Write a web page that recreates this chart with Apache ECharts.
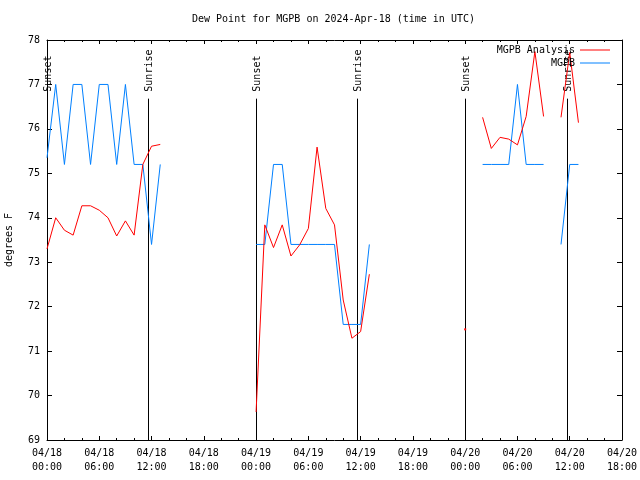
<!DOCTYPE html>
<html><head><meta charset="utf-8">
<script src="https://cdn.jsdelivr.net/npm/echarts@6/dist/echarts.min.js"></script>
<style>html,body{margin:0;padding:0;background:#fff}#c{width:640px;height:480px}</style>
</head><body><div id="c"></div>
<script>
const FONT = 'DejaVu Sans Mono';
const titleText = 'Dew Point for MGPB on 2024-Apr-18 (time in UTC)';
const yAxisTitle = 'degrees F';
const seriesNames = ['MGPB Analysis', 'MGPB'];
const seriesColors = ['#ff0000', '#0080ff'];
const xTickLabels = [
  '04/18\n00:00','04/18\n06:00','04/18\n12:00','04/18\n18:00',
  '04/19\n00:00','04/19\n06:00','04/19\n12:00','04/19\n18:00',
  '04/20\n00:00','04/20\n06:00','04/20\n12:00','04/20\n18:00'
];
// values indexed by hour since 04/18 00:00 UTC (null = missing)
const analysis = [
  73.30,74.00,73.72,73.61,74.27,74.27,74.17,74.00,73.59,73.93,73.61,75.20,75.61,75.65,
  null,null,null,null,null,null,null,null,null,null,
  69.63,73.84,73.33,73.84,73.14,73.39,73.76,75.59,74.21,73.84,72.15,71.29,71.44,72.73,
  null,null,null,null,null,null,null,null,null,null,
  71.49,
  null,
  76.26,75.56,75.81,75.77,75.64,76.28,77.74,76.28,
  null,
  76.26,77.72,76.14
];
const observed = [
  75.35,77.0,75.2,77.0,77.0,75.2,77.0,77.0,75.2,77.0,75.2,75.2,73.4,75.2,
  null,null,null,null,null,null,null,null,null,null,
  73.4,73.4,75.2,75.2,73.4,73.4,73.4,73.4,73.4,73.4,71.6,71.6,71.6,73.4,
  null,null,null,null,null,null,null,null,null,null,
  null,
  null,
  75.2,75.2,75.2,75.2,77.0,75.2,75.2,75.2,
  null,
  73.4,75.2,75.2
];
const sunHours = [0.03, 11.63, 24.0, 35.63, 48.0, 59.65];
const sunLabels = ['Sunset','Sunrise','Sunset','Sunrise','Sunset','Sunrise'];

function toData(arr) {
  return arr.map((v, i) => {
    if (v == null) return [i, '-'];
    const iso = (i === 0 || arr[i-1] == null) && (i === arr.length-1 || arr[i+1] == null);
    return iso ? {value: [i, v], symbol: 'rect', symbolSize: [2, 2]} : [i, v];
  });
}

const chart = echarts.init(document.getElementById('c'), null, {renderer: 'canvas'});
const txt = {fontFamily: FONT, fontSize: 10, color: '#000'};
const axisCommon = {
  axisLine: {show: true, onZero: false, lineStyle: {color: '#000', width: 1}},
  splitLine: {show: false},
};
chart.setOption({
  animation: false,
  backgroundColor: '#fff',
  title: {text: titleText, left: 192, top: 14, padding: 0,
    textStyle: {fontFamily: FONT, fontSize: 10, fontWeight: 'normal', color: '#000'}},
  legend: {
    data: seriesNames.map((n, i) => ({name: n, icon: 'rect', itemStyle: {color: seriesColors[i]}})),
    orient: 'vertical', right: 30, top: 44, align: 'right',
    itemWidth: 30, itemHeight: 1, itemGap: 1, padding: 0,
    textStyle: {fontFamily: FONT, fontSize: 10, color: '#000', lineHeight: 12}
  },
  grid: {left: 47, right: 18, top: 40, bottom: 40, containLabel: false, outerBoundsMode: 'none'},
  xAxis: [
    Object.assign({type: 'value', min: 0, max: 66, interval: 6, position: 'bottom',
      axisTick: {show: true, inside: true, length: 4, lineStyle: {color: '#000'}},
      minorTick: {show: true, splitNumber: 3, length: 2, lineStyle: {color: '#000'}},
      axisLabel: Object.assign({formatter: v => xTickLabels[Math.round(v / 6)] || '', lineHeight: 14, margin: 6,
        showMinLabel: true, showMaxLabel: true}, txt)}, axisCommon),
    Object.assign({type: 'value', min: 0, max: 66, interval: 6, position: 'top',
      axisTick: {show: true, inside: true, length: 4, lineStyle: {color: '#000'}},
      minorTick: {show: true, splitNumber: 3, length: 2, lineStyle: {color: '#000'}},
      axisLabel: {show: false}}, axisCommon)
  ],
  yAxis: [
    Object.assign({type: 'value', min: 69, max: 78, interval: 1, position: 'left',
      name: yAxisTitle, nameLocation: 'middle', nameGap: 32.5, nameRotate: 90,
      nameTextStyle: txt,
      axisTick: {show: true, inside: true, length: 5, lineStyle: {color: '#000'}},
      axisLabel: Object.assign({margin: 7}, txt)}, axisCommon),
    Object.assign({type: 'value', min: 69, max: 78, interval: 1, position: 'right',
      axisTick: {show: true, inside: true, length: 5, lineStyle: {color: '#000'}},
      axisLabel: {show: false}}, axisCommon)
  ],
  series: [
    {
      type: 'custom', name: 'sun', silent: true, clip: false, z: 1,
      xAxisIndex: 0, yAxisIndex: 0,
      data: sunHours.map((h, i) => [h, 69, i]),
      encode: {x: 0, y: 1},
      renderItem: (params, api) => {
        const h = api.value(0);
        const idx = api.value(2);
        const b = api.coord([h, 69]);
        const t = api.coord([h, 76.68]);
        const x = Math.round(b[0]) + 0.5;
        return {type: 'group', children: [
          {type: 'line', shape: {x1: x, y1: b[1], x2: x, y2: t[1]},
            style: {stroke: '#000', lineWidth: 1}},
          {type: 'text', x: x + 1, y: t[1] - 7, rotation: Math.PI / 2,
            style: {text: sunLabels[idx], fill: '#000', fontFamily: FONT, fontSize: 10,
              align: 'left', verticalAlign: 'middle'}}
        ]};
      }
    },
    {
      name: seriesNames[0], type: 'line', data: toData(analysis), symbol: 'none', showSymbol: true,
      connectNulls: false, z: 3,
      lineStyle: {color: seriesColors[0], width: 1}, itemStyle: {color: seriesColors[0]}
    },
    {
      name: seriesNames[1], type: 'line', data: toData(observed), symbol: 'none', showSymbol: true,
      connectNulls: false, z: 2,
      lineStyle: {color: seriesColors[1], width: 1}, itemStyle: {color: seriesColors[1]}
    }
  ]
});
</script></body></html>
